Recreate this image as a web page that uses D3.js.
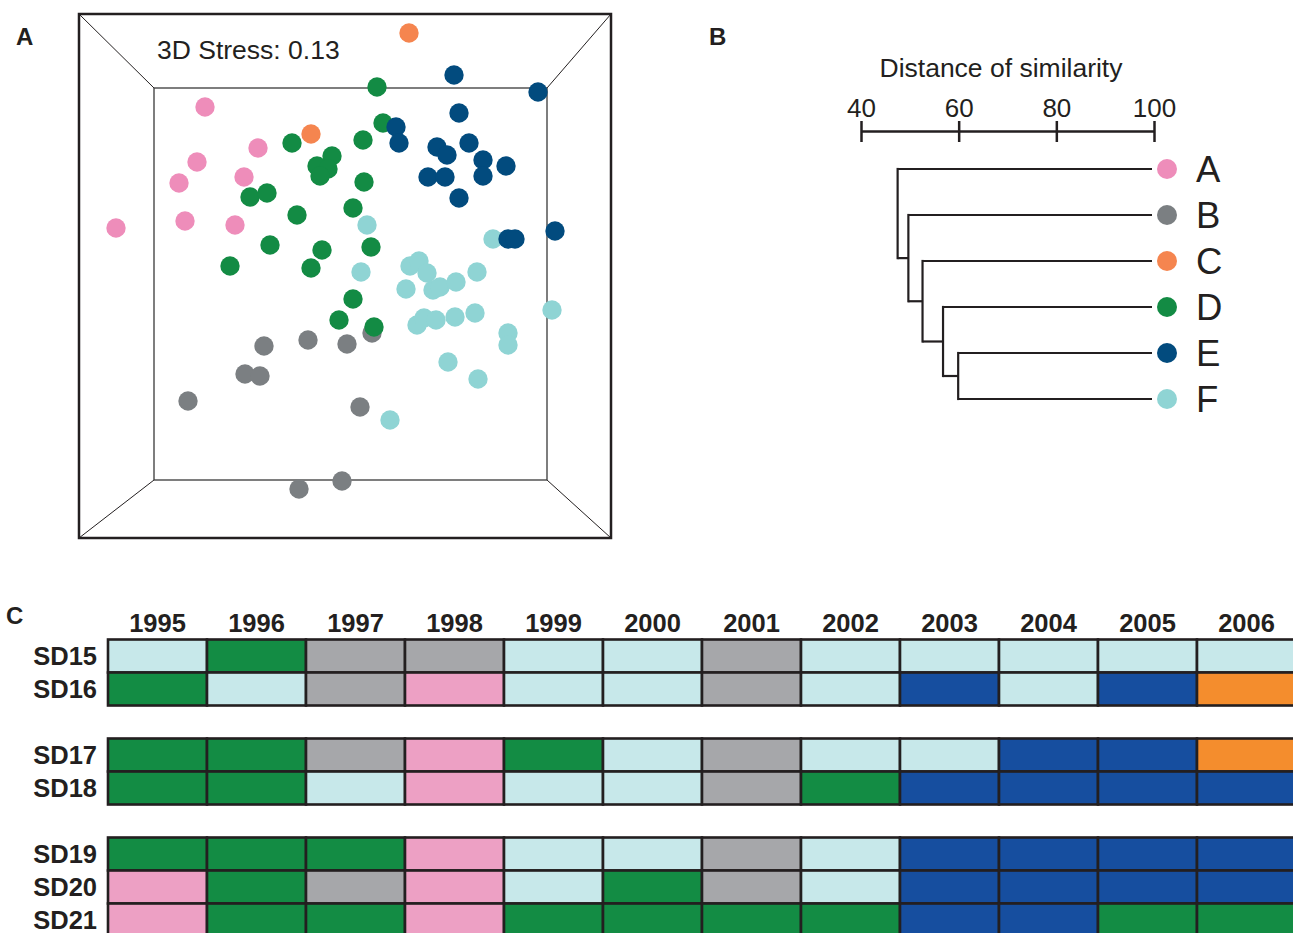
<!DOCTYPE html>
<html>
<head>
<meta charset="utf-8">
<script src="https://cdn.jsdelivr.net/npm/d3@7"></script>
<style>
body { margin: 0; background: #fff; }
svg { display: block; font-family: "Liberation Sans", Arial, Helvetica, sans-serif; }
</style>
</head>
<body>
<svg width="1293" height="933"></svg>
<script>
const INK = "#231f20";

// ---- shared cluster colours ----
const CLUSTERS = ["A", "B", "C", "D", "E", "F"];
const POINT_COLORS = ["#ee8dba", "#7b7f82", "#f5854f", "#138b44", "#024b7e", "#8fd4d4"];
const CELL_COLORS = ["#eda0c4", "#a6a7aa", "#f48d2d", "#138c44", "#164e9f", "#c7e8ea"];

// ---- panel A: nMDS ordination (arbitrary MDS units) ----
const stressLabel = "3D Stress: 0.13";
const mdsA = [[-14.0, 16.9], [-8.7, 12.8], [-14.8, 11.4], [-16.6, 9.3], [-10.1, 9.9],
  [-16.0, 5.5], [-11.0, 5.1], [-22.9, 4.8]];
const mdsB = [[-8.1, -7.0], [-3.7, -6.4], [0.2, -6.8], [2.7, -5.7], [-10.0, -9.8],
  [-8.5, -10.0], [-15.7, -12.5], [1.5, -13.1], [-4.6, -21.3], [-0.3, -20.5]];
const mdsC = [[6.4, 24.3], [-3.4, 14.2]];
const mdsD = [[3.2, 18.9], [3.8, 15.3], [-5.3, 13.3], [1.8, 13.6], [-1.3, 12.0], [-2.8, 11.0],
  [-1.7, 10.7], [-2.5, 10.0], [1.9, 9.4], [-9.5, 7.9], [-7.8, 8.3], [-4.8, 6.1], [0.8, 6.8],
  [-7.5, 3.1], [-2.3, 2.6], [2.6, 2.9], [-11.5, 1.0], [-3.4, 0.8], [0.8, -2.3], [-0.6, -4.4],
  [2.9, -5.1]];
const mdsE = [[10.9, 20.1], [19.3, 18.4], [11.4, 16.3], [5.1, 14.9], [5.4, 13.3], [9.2, 12.9],
  [10.2, 12.1], [12.4, 13.3], [13.8, 11.6], [13.8, 10.0], [16.1, 11.0], [8.3, 9.9], [10.0, 9.9],
  [11.4, 7.8], [16.3, 3.7], [17.0, 3.7], [21.0, 4.5]];
const mdsF = [[2.2, 5.1], [14.8, 3.7], [1.6, 0.4], [6.5, 1.0], [7.4, 1.5], [8.2, 0.3], [6.1, -1.3],
  [8.8, -1.4], [9.5, -1.1], [11.1, -0.6], [13.2, 0.4], [7.2, -4.9], [7.9, -4.2], [9.1, -4.4],
  [11.0, -4.1], [13.0, -3.7], [20.7, -3.4], [16.3, -5.7], [16.3, -6.9], [10.3, -8.6],
  [13.3, -10.3], [4.5, -14.4]];

// ---- panel B: dendrogram ----
const leaves = ["A", "B", "C", "D", "E", "F"];
// similarity at which each leaf joins the remaining group (last one: E with F)
const mergeLevels = [47.5, 49.7, 52.6, 56.8, 59.9];
const distTicks = [40, 60, 80, 100];

// ---- panel C: cluster membership per site and year ----
const years = ["1995", "1996", "1997", "1998", "1999", "2000", "2001", "2002", "2003", "2004", "2005", "2006"];
const siteGroups = [["SD15", "SD16"], ["SD17", "SD18"], ["SD19", "SD20", "SD21"]];
const sd15 = ["F", "D", "B", "B", "F", "F", "B", "F", "F", "F", "F", "F"];
const sd16 = ["D", "F", "B", "A", "F", "F", "B", "F", "E", "F", "E", "C"];
const sd17 = ["D", "D", "B", "A", "D", "F", "B", "F", "F", "E", "E", "C"];
const sd18 = ["D", "D", "F", "A", "F", "F", "B", "D", "E", "E", "E", "E"];
const sd19 = ["D", "D", "D", "A", "F", "F", "B", "F", "E", "E", "E", "E"];
const sd20 = ["A", "D", "B", "A", "F", "D", "B", "F", "E", "E", "E", "E"];
const sd21 = ["A", "D", "D", "A", "D", "D", "D", "D", "E", "E", "D", "D"];
const siteRows = { SD15: sd15, SD16: sd16, SD17: sd17, SD18: sd18, SD19: sd19, SD20: sd20, SD21: sd21 };

const svg = d3.select("svg");
const pointColor = d3.scaleOrdinal().domain(CLUSTERS).range(POINT_COLORS);
const cellColor = d3.scaleOrdinal().domain(CLUSTERS).range(CELL_COLORS);

function panelLabel(text, x, y) {
  svg.append("text").attr("x", x).attr("y", y)
    .attr("font-size", 24).attr("font-weight", "bold").attr("fill", INK).text(text);
}

// ================= Panel A =================
panelLabel("A", 16, 45);

const mx = d3.scaleLinear().domain([-26.6, 26.6]).range([79, 611]);
const my = d3.scaleLinear().domain([-26.2, 26.2]).range([538, 14]);
const outer = { x0: -26.6, x1: 26.6, y0: -26.2, y1: 26.2 };
const inner = { x0: -19.1, x1: 20.2, y0: -20.4, y1: 18.8 };

const boxG = svg.append("g").attr("fill", "none");
[["x0", "y1"], ["x1", "y1"], ["x1", "y0"], ["x0", "y0"]].forEach(([kx, ky]) => {
  boxG.append("line")
    .attr("x1", mx(outer[kx])).attr("y1", my(outer[ky]))
    .attr("x2", mx(inner[kx])).attr("y2", my(inner[ky]))
    .attr("stroke", INK).attr("stroke-width", 1);
});
boxG.append("rect")
  .attr("x", mx(inner.x0)).attr("y", my(inner.y1))
  .attr("width", mx(inner.x1) - mx(inner.x0)).attr("height", my(inner.y0) - my(inner.y1))
  .attr("stroke", "#3a3a3a").attr("stroke-width", 1.3);
boxG.append("rect")
  .attr("x", mx(outer.x0)).attr("y", my(outer.y1))
  .attr("width", mx(outer.x1) - mx(outer.x0)).attr("height", my(outer.y0) - my(outer.y1))
  .attr("stroke", INK).attr("stroke-width", 2.5);

svg.append("text").attr("x", 157).attr("y", 59)
  .attr("font-size", 26.5).attr("fill", INK).text(stressLabel);

// draw order so overlaps look like the original
const layers = [["B", mdsB], ["F", mdsF], ["A", mdsA], ["C", mdsC], ["D", mdsD], ["E", mdsE]];
layers.forEach(([cl, pts]) => {
  svg.append("g").selectAll("circle")
    .data(pts)
    .enter()
    .append("circle")
    .attr("cx", d => mx(d[0]))
    .attr("cy", d => my(d[1]))
    .attr("r", 9.7)
    .attr("fill", pointColor(cl));
});

// ================= Panel B =================
panelLabel("B", 709, 45);

const dx = d3.scaleLinear().domain([40, 100]).range([861, 1154]);
const dy = d3.scalePoint().domain(leaves).range([169, 399]);

svg.append("text").attr("x", 1001).attr("y", 77).attr("text-anchor", "middle")
  .attr("font-size", 26.5).attr("fill", INK).text("Distance of similarity");

const axisG = svg.append("g").attr("transform", "translate(0,131)")
  .call(d3.axisTop(dx).tickValues(distTicks).tickSizeInner(9).tickSizeOuter(0).tickPadding(5));
axisG.select(".domain").attr("stroke", INK).attr("stroke-width", 2.5);
axisG.selectAll(".tick line").attr("stroke", INK).attr("stroke-width", 2.5).attr("y1", 11).attr("y2", -10);
axisG.selectAll(".tick text").attr("font-size", 26).attr("fill", INK)
  .attr("font-family", "Liberation Sans, Arial, sans-serif");

function ladder(i) {
  if (i === leaves.length - 1) return { name: leaves[i] };
  return { level: mergeLevels[i], children: [{ name: leaves[i] }, ladder(i + 1)] };
}
const tree = d3.hierarchy(ladder(0));
tree.eachAfter(n => {
  if (n.children) {
    n.py = d3.mean(n.children, c => c.py);
    n.px = dx(n.data.level);
  } else {
    n.py = dy(n.data.name);
    n.px = dx(100) - 2;
  }
});

const dendroG = svg.append("g").attr("fill", "none").attr("stroke", INK).attr("stroke-width", 2.2);
tree.descendants().filter(n => n.children).forEach(n => {
  const ys = n.children.map(c => c.py);
  dendroG.append("line").attr("x1", n.px).attr("x2", n.px)
    .attr("y1", d3.min(ys) - 1.1).attr("y2", d3.max(ys) + 1.1);
  n.children.forEach(c => {
    dendroG.append("line").attr("x1", n.px).attr("x2", c.px).attr("y1", c.py).attr("y2", c.py);
  });
});

const legendG = svg.append("g").selectAll("g")
  .data(leaves)
  .enter()
  .append("g")
  .attr("transform", d => "translate(0," + dy(d) + ")");
legendG.append("circle").attr("cx", 1167).attr("r", 10).attr("fill", d => pointColor(d));
legendG.append("text").attr("x", 1196).attr("y", 13).attr("font-size", 36.5).attr("fill", INK).text(d => d);

// ================= Panel C =================
panelLabel("C", 6, 624);

const slots = [];
siteGroups.forEach((g, gi) => {
  g.forEach(s => slots.push(s));
  if (gi < siteGroups.length - 1) slots.push("gap" + gi);
});
const cx = d3.scaleBand().domain(years).range([108, 108 + 99 * years.length]);
const cy = d3.scaleBand().domain(slots).range([639.5, 639.5 + 33 * slots.length]);

svg.append("g").selectAll("text")
  .data(years)
  .enter()
  .append("text")
  .attr("x", d => cx(d) + cx.bandwidth() / 2)
  .attr("y", 632)
  .attr("text-anchor", "middle")
  .attr("font-size", 25.5).attr("font-weight", "bold").attr("fill", INK)
  .text(d => d);

const sites = siteGroups.flat();
const cells = [];
sites.forEach(s => siteRows[s].forEach((cl, i) => cells.push({ site: s, year: years[i], cl: cl })));

svg.append("g").selectAll("rect")
  .data(cells)
  .enter()
  .append("rect")
  .attr("x", d => cx(d.year))
  .attr("y", d => cy(d.site))
  .attr("width", cx.bandwidth())
  .attr("height", cy.bandwidth())
  .attr("fill", d => cellColor(d.cl))
  .attr("stroke", INK)
  .attr("stroke-width", 2.6);

svg.append("g").selectAll("text")
  .data(sites)
  .enter()
  .append("text")
  .attr("x", 97)
  .attr("y", d => cy(d) + cy.bandwidth() / 2 + 9)
  .attr("text-anchor", "end")
  .attr("font-size", 25.5).attr("font-weight", "bold").attr("fill", INK)
  .text(d => d);
</script>
</body>
</html>
